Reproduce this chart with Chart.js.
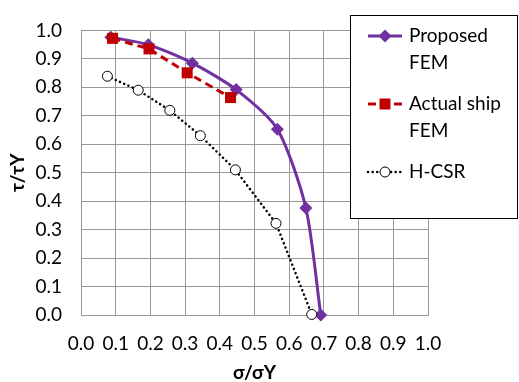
<!DOCTYPE html>
<html>
<head>
<meta charset="utf-8">
<script src="https://cdn.jsdelivr.net/npm/chart.js@4.4.0/dist/chart.umd.min.js"></script>
<style>
  html, body { margin: 0; padding: 0; background: #fff; }
  #wrap { width: 519px; height: 382px; position: relative; }
</style>
</head>
<body>
<div id="wrap"><canvas id="c"></canvas></div>
<script>
// data
const proposedX = [0.086, 0.194, 0.321, 0.447, 0.566, 0.648, 0.691];
const proposedY = [0.976, 0.950, 0.885, 0.792, 0.653, 0.376, 0.000];
const actualX = [0.091, 0.196, 0.306, 0.431];
const actualY = [0.972, 0.935, 0.851, 0.764];
const hcsrX = [0.076, 0.165, 0.256, 0.344, 0.445, 0.562, 0.665];
const hcsrY = [0.839, 0.790, 0.719, 0.630, 0.510, 0.322, 0.002];
const seriesNames = [['Proposed', 'FEM'], ['Actual ship', 'FEM'], ['H-CSR']];

const FONT = "Lato, 'Open Sans', sans-serif";
const FSIZE = 19;
const PURPLE = '#7030A0';
const RED = '#C00000';
const GRID = '#999999';

function pts(xs, ys) {
    return xs.map((x, i) => ({ x: x, y: ys[i] }));
}

// legend box drawn by hand so it can sit over the plot like the original
const boxLegend = {
    id: 'boxLegend',
    afterDraw(chart) {
        const ctx = chart.ctx;
        ctx.save();
        ctx.fillStyle = '#fff';
        ctx.fillRect(351, 15, 167, 203);
        ctx.strokeStyle = '#000';
        ctx.lineWidth = 1;
        ctx.strokeRect(350.5, 15.5, 167, 203);

        const rows = [36, 104, 172];
        const styles = [
            { color: PURPLE, dash: [], cap: 'butt', width: 3 },
            { color: RED, dash: [8, 5], cap: 'butt', width: 3 },
            { color: '#000', dash: [0.1, 4.5], cap: 'round', width: 2.5 }
        ];
        rows.forEach((y, i) => {
            const s = styles[i];
            ctx.beginPath();
            ctx.setLineDash(s.dash);
            ctx.lineCap = s.cap;
            ctx.lineWidth = s.width;
            ctx.strokeStyle = s.color;
            ctx.moveTo(368, y);
            ctx.lineTo(402, y);
            ctx.stroke();
            ctx.setLineDash([]);
            ctx.lineCap = 'butt';

            ctx.beginPath();
            if (i === 0) {
                ctx.moveTo(385, y - 6.5); ctx.lineTo(391.5, y); ctx.lineTo(385, y + 6.5); ctx.lineTo(378.5, y);
                ctx.closePath();
                ctx.fillStyle = PURPLE; ctx.fill();
            } else if (i === 1) {
                ctx.fillStyle = RED;
                ctx.fillRect(379.5, y - 5.5, 11, 11);
            } else {
                ctx.arc(385, y, 5, 0, Math.PI * 2);
                ctx.fillStyle = '#fff'; ctx.fill();
                ctx.lineWidth = 1; ctx.strokeStyle = '#000'; ctx.stroke();
            }

            ctx.fillStyle = '#000';
            ctx.font = FSIZE + 'px ' + FONT;
            ctx.textBaseline = 'middle';
            ctx.textAlign = 'left';
            seriesNames[i].forEach((t, k) => ctx.fillText(t, 409, y + k * 27));
        });
        ctx.restore();
    }
};

const data = {
    datasets: [
        {
            label: 'Proposed FEM',
            data: pts(proposedX, proposedY),
            borderColor: PURPLE,
            backgroundColor: PURPLE,
            borderWidth: 3,
            tension: 0.25,
            pointStyle: 'rectRot',
            pointRadius: 6.5,
            pointBorderWidth: 0,
            order: 3
        },
        {
            label: 'Actual ship FEM',
            data: pts(actualX, actualY),
            borderColor: RED,
            backgroundColor: RED,
            borderWidth: 3,
            borderDash: [8, 5],
            tension: 0,
            pointStyle: 'rect',
            pointRadius: 7.8,
            pointBorderWidth: 0,
            order: 2
        },
        {
            label: 'H-CSR',
            data: pts(hcsrX, hcsrY),
            borderColor: '#000',
            backgroundColor: '#fff',
            borderWidth: 2.5,
            borderDash: [0.1, 4.5],
            borderCapStyle: 'round',
            tension: 0,
            pointStyle: 'circle',
            pointRadius: 5,
            pointBorderWidth: 1,
            pointBorderColor: '#000',
            pointBackgroundColor: '#fff',
            order: 1
        }
    ]
};

window.onload = () => {
    new Chart(document.getElementById('c'), {
        type: 'line',
        data: data,
        options: {
            responsive: true,
            maintainAspectRatio: false,
            animation: false,
            clip: false,
            layout: { padding: { left: 0, right: 91, top: 17, bottom: 0 } },
            plugins: { legend: { display: false }, tooltip: { enabled: false } },
            scales: {
                x: {
                    type: 'linear',
                    min: 0, max: 1,
                    afterFit: s => { s.height = 67; },
                    ticks: {
                        stepSize: 0.1, autoSkip: false, maxRotation: 0,
                        padding: 17,
                        color: '#000',
                        font: { family: FONT, size: FSIZE },
                        callback: v => v.toFixed(1)
                    },
                    grid: { color: GRID, drawTicks: false },
                    border: { color: GRID },
                    title: {
                        display: true, text: 'σ/σY', color: '#000',
                        font: { family: FONT, size: FSIZE, weight: 'bold', lineHeight: 1 },
                        padding: { top: 0, bottom: 0 }
                    }
                },
                y: {
                    min: 0, max: 1,
                    afterFit: s => { s.width = 81; },
                    ticks: {
                        stepSize: 0.1, autoSkip: false,
                        padding: 19,
                        color: '#000',
                        font: { family: FONT, size: FSIZE },
                        callback: v => v.toFixed(1)
                    },
                    grid: { color: GRID, drawTicks: false },
                    border: { color: GRID },
                    title: {
                        display: true, text: 'τ/τY', color: '#000',
                        font: { family: FONT, size: FSIZE, weight: 'bold', lineHeight: 1 },
                        padding: { top: 8, bottom: 0 }
                    }
                }
            }
        },
        plugins: [boxLegend]
    });
};
</script>
</body>
</html>
